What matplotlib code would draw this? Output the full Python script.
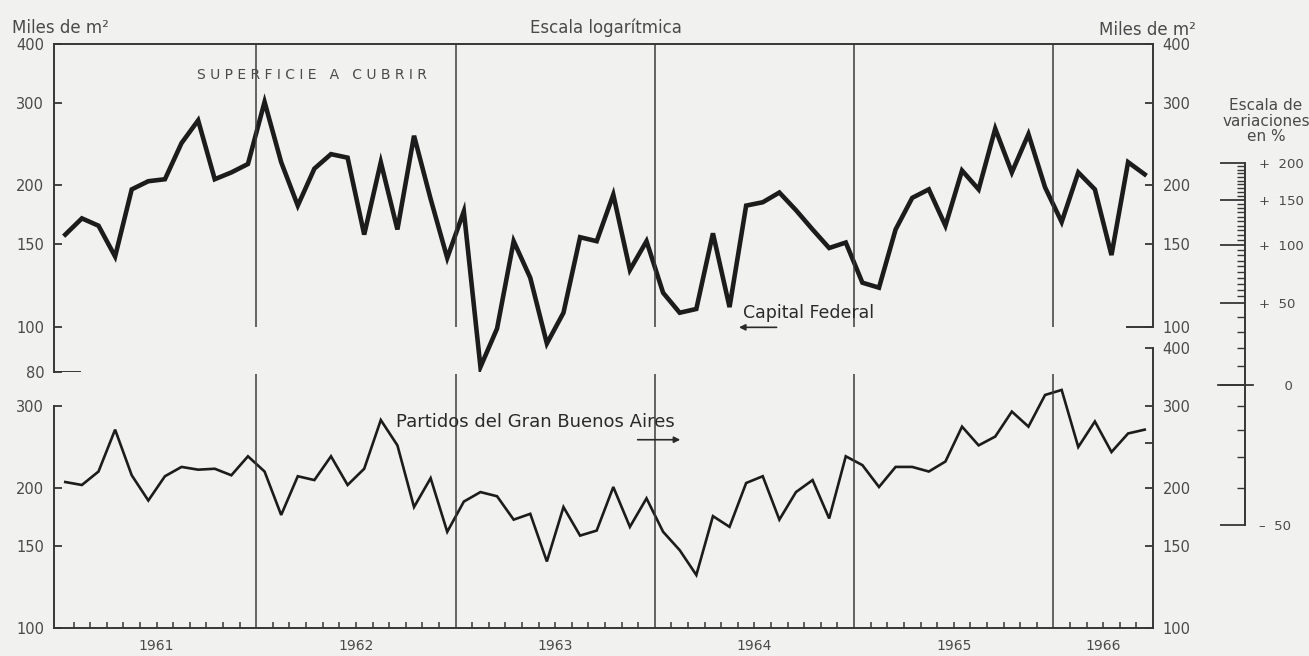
import numpy as np
import matplotlib.pyplot as plt
from matplotlib.ticker import NullLocator

# Superficie a cubrir, miles de m2, meses ene 1961 - jun 1966
capital_federal = [157, 170, 164, 141, 196, 204, 206, 246, 275, 206, 213, 222,
                   301, 224, 181, 217, 233, 229, 157, 224, 161, 255, 187, 140,
                   176, 82, 99, 152, 127, 92, 107, 155, 152, 191, 132, 152,
                   118, 107, 109, 158, 110, 181, 184, 193, 177, 161, 147, 151,
                   124, 121, 161, 188, 196, 164, 215, 196, 264, 213, 257, 198,
                   167, 213, 196, 142, 224, 211]
gran_buenos_aires = [206, 203, 217, 267, 213, 188, 212, 222, 219, 220, 213, 234,
                     217, 175, 212, 208, 234, 203, 220, 280, 247, 182, 210, 161,
                     187, 196, 192, 171, 176, 139, 182, 158, 162, 201, 165, 190,
                     161, 147, 130, 174, 165, 205, 212, 171, 196, 208, 172, 234,
                     224, 201, 222, 222, 217, 228, 271, 247, 258, 292, 271, 317,
                     325, 245, 278, 239, 262, 267]

year_labels = ['1961', '1962', '1963', '1964', '1965', '1966']
year_label_pos = [6, 18, 30, 42, 54, 63]
year_bounds = [12, 24, 36, 48, 60]

top_left_ticks = [80, 100, 150, 200, 300, 400]
top_right_ticks = [100, 150, 200, 300, 400]
bot_left_ticks = [100, 150, 200, 300]
bot_right_ticks = [100, 150, 200, 250, 300, 400]
bot_right_labels = ['100', '150', '200', '', '300', '400']

pct_major = [-50, 0, 50, 100, 150, 200]
pct_major_labels = ['\u2013  50', '      0', '+  50', '+  100', '+  150', '+  200']
pct_minor = [-40, -30, -20, -10, 10, 20, 30, 40,
             55, 60, 65, 70, 75, 80, 85, 90, 95,
             105, 110, 115, 120, 125, 130, 135, 140, 145,
             155, 160, 165, 170, 175, 180, 185, 190, 195]

bg = '#f1f1f0'
ink = '#1c1c1c'
axc = '#363636'
txt = '#4a4a4a'

plt.rcParams['font.family'] = 'DejaVu Sans'

W, H = 1309, 656


def rect(x0, x1, y0, y1):
    # pixel box -> figure fraction
    return [x0 / W, 1 - y1 / H, (x1 - x0) / W, (y1 - y0) / H]


fig = plt.figure(figsize=(W / 100, H / 100), dpi=100, facecolor=bg)

t = np.arange(len(capital_federal)) + 0.5
xlim = (-0.18, 66.0)
month_ticks = [m for m in range(1, 66) if m % 12 != 0]


def style_y(ax, ticks, labels, side):
    ax.set_yscale('log')
    ax.set_yticks(ticks, labels=labels)
    ax.yaxis.set_minor_locator(NullLocator())
    ax.tick_params(axis='y', which='major', direction='in', length=6, width=1.3,
                   color=axc, labelcolor=txt, labelsize=10.5, pad=7,
                   left=(side == 'left'), labelleft=(side == 'left'),
                   right=(side == 'right'), labelright=(side == 'right'))


# ---- top panel: Capital Federal
ax1 = fig.add_axes(rect(54, 1153, 44, 372))
ax1.set_facecolor('none')
ax1.plot(t, capital_federal, color=ink, lw=3.3, solid_joinstyle='miter')
ax1.set_xlim(*xlim)
ax1.set_ylim(80, 400)
style_y(ax1, top_left_ticks, [str(v) for v in top_left_ticks], 'left')
ax1.set_xticks([])
ax1.vlines(year_bounds, 100, 400, color='#3c3c3c', lw=1.1)
ax1.axhline(80, xmin=0, xmax=26 / 1099, color=axc, lw=1.4)
for s in ['bottom', 'right']:
    ax1.spines[s].set_visible(False)
for s in ['top', 'left']:
    ax1.spines[s].set_color(axc)
    ax1.spines[s].set_linewidth(1.4)

ax1r = ax1.twinx()
ax1r.set_ylim(80, 400)
style_y(ax1r, top_right_ticks, [str(v) for v in top_right_ticks], 'right')
ax1r.set_ylim(80, 400)
for s in ['top', 'left', 'bottom']:
    ax1r.spines[s].set_visible(False)
ax1r.spines['right'].set_bounds(100, 400)
ax1r.spines['right'].set_color(axc)
ax1r.spines['right'].set_linewidth(1.4)
ax1r.axhline(100, xmin=1 - 26 / 1099, xmax=1, color=axc, lw=1.4)

ax1.text(41.3, 107, 'Capital Federal', fontsize=12.5, color='#2a2a2a',
         ha='left', va='center')
ax1.annotate('', xy=(40.9, 99.6), xytext=(43.5, 99.6),
             arrowprops=dict(arrowstyle='-|>', color='#2a2a2a', lw=1.2,
                             mutation_scale=9))

# ---- bottom panel: Partidos del Gran Buenos Aires
ax2 = fig.add_axes(rect(54, 1153, 348, 628))
ax2.set_facecolor('none')
ax2.plot(t, gran_buenos_aires, color=ink, lw=1.9, solid_joinstyle='miter')
ax2.set_xlim(*xlim)
ax2.set_ylim(100, 400)
style_y(ax2, bot_left_ticks, [str(v) for v in bot_left_ticks], 'left')
ax2.set_xticks(year_label_pos, labels=year_labels)
ax2.set_xticks(month_ticks, minor=True)
ax2.xaxis.remove_overlapping_locs = False
ax2.tick_params(axis='x', which='major', length=0, pad=8, labelsize=10,
                labelcolor=txt)
ax2.tick_params(axis='x', which='minor', direction='in', length=4, width=1.1,
                color=axc)
ax2.vlines(year_bounds, 100, 352, color='#3c3c3c', lw=1.1)
for s in ['top', 'right']:
    ax2.spines[s].set_visible(False)
ax2.spines['left'].set_bounds(100, 300)
for s in ['bottom', 'left']:
    ax2.spines[s].set_color(axc)
    ax2.spines[s].set_linewidth(1.4)

ax2r = ax2.twinx()
ax2r.set_ylim(100, 400)
style_y(ax2r, bot_right_ticks, bot_right_labels, 'right')
ax2r.set_ylim(100, 400)
for s in ['top', 'left', 'bottom']:
    ax2r.spines[s].set_visible(False)
ax2r.spines['right'].set_color(axc)
ax2r.spines['right'].set_linewidth(1.4)

ax2.text(20.4, 277, 'Partidos del Gran Buenos Aires', fontsize=13,
         color='#2a2a2a', ha='left', va='center')
ax2.annotate('', xy=(37.7, 254), xytext=(34.8, 254),
             arrowprops=dict(arrowstyle='-|>', color='#2a2a2a', lw=1.2,
                             mutation_scale=9))

# ---- escala de variaciones en %
axp = fig.add_axes(rect(1200, 1245, 163, 525))
axp.set_facecolor('none')
axp.set_yscale('log')
axp.set_ylim(0.5, 3.0)
axp.set_xticks([])
axp.yaxis.tick_right()
axp.set_yticks([1 + p / 100 for p in pct_major], labels=pct_major_labels)
axp.set_yticks([1 + p / 100 for p in pct_minor], minor=True)
axp.yaxis.set_minor_formatter(plt.NullFormatter())
axp.tick_params(axis='y', which='major', direction='in', length=18, width=1.3,
                color=axc, labelcolor=txt, labelsize=9.5, pad=10)
axp.tick_params(axis='y', which='minor', direction='in', length=6, width=1.0,
                color=axc)
for s in ['top', 'left', 'bottom']:
    axp.spines[s].set_visible(False)
axp.spines['right'].set_color(axc)
axp.spines['right'].set_linewidth(1.4)
axp.axhline(1.0, xmin=0.4, xmax=1.18, color=axc, lw=1.3, clip_on=False)

fig.text(1266 / W, 1 - 121 / H, 'Escala de\nvariaciones\nen %', ha='center',
         va='center', fontsize=11, color=txt, linespacing=1.05)

# ---- headings
fig.text(12 / W, 1 - 28 / H, 'Miles de m²', ha='left', va='center',
         fontsize=12, color=txt)
fig.text(606 / W, 1 - 28 / H, 'Escala logarítmica', ha='center', va='center',
         fontsize=12, color=txt)
fig.text(1196 / W, 1 - 30 / H, 'Miles de m²', ha='right', va='center',
         fontsize=12, color=txt)
fig.text(312 / W, 1 - 75 / H, 'S U P E R F I C I E   A   C U B R I R',
         ha='center', va='center', fontsize=10, color=txt)

fig.savefig('out.png', dpi=100, facecolor=bg)
